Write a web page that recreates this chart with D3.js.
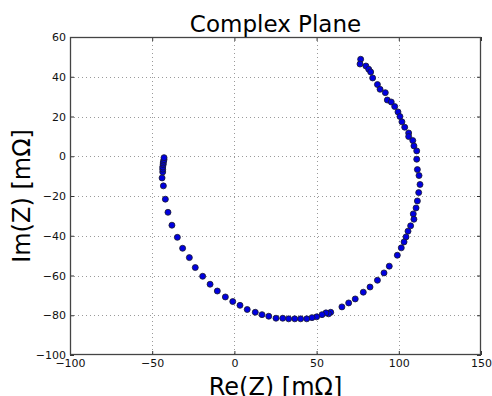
<!DOCTYPE html>
<html lang="en">
<head>
<meta charset="UTF-8">
<title>Complex Plane</title>
<script src="https://cdn.jsdelivr.net/npm/d3@7"></script>
<style>
  body { margin: 0; background: #fff; overflow: hidden; }
  text { font-family: "DejaVu Sans", sans-serif; }
</style>
</head>
<body>
<script>
// impedance points (mOhm), right branch top -> bottom -> left branch
const re = [76.8, 76.4, 80, 81.7, 82.9, 84.1, 87, 88.6, 91.8, 93, 95.4, 97.5, 99.5, 100.7, 101.9, 103.6,
  106, 106, 108.5, 109.2, 110.9, 110.9, 111.3, 112.3, 112.9, 112.1, 111.3, 110.5, 108.8, 109.2, 107.2,
  105.6, 104.4, 103.2, 101.5, 99.1, 94.2, 91, 87, 82.5, 78.4, 73.5, 69.5, 65.4, 58.6, 57.3, 55.7, 53.3,
  50, 47.2, 44, 40.3, 36.7, 33, 29.4, 25.3, 20.9, 16.8, 12.7, 7.8, 3.4, -1, -5.5, -10.4, -14.8, -19.3,
  -23.8, -27.4, -31.5, -34.7, -38, -40.4, -42, -43.2, -44, -43.6, -43.6, -43.6, -43.3, -43.3, -43.1, -42.8, -42.8];
const im = [48.8, 46.4, 45.4, 43.8, 42.4, 39.4, 36.1, 33.7, 32, 28.3, 27.3, 25, 22.3, 20, 17.3, 14.6,
  11.7, 9.9, 7.9, 5.2, 2.7, -1.5, -6.7, -9.7, -14.2, -18.3, -22.5, -26, -29, -31.7, -35,
  -37.7, -40.6, -43.1, -46.1, -49.8, -55.3, -58.7, -62.4, -65.8, -68.4, -71.8, -73.8, -75.8, -78.5, -79.3, -78.8, -79.7,
  -80.8, -81.2, -81.8, -81.8, -81.8, -81.8, -81.5, -81.5, -80.5, -79.7, -78.5, -77.1, -75, -73.1, -70.8, -67.8, -64.4, -60.4,
  -56, -51, -46.3, -40.8, -34.7, -28.2, -21.6, -14.9, -10.9, -7.9, -6.5, -5.4, -4.2, -3.4, -2.5, -1.7, -0.7];
const xTicks = [-100, -50, 0, 50, 100, 150];
const yTicks = [-100, -80, -60, -40, -20, 0, 20, 40, 60];

const W = 492, H = 396;
const m = {top: 37, right: 11, bottom: 41, left: 70};

const svg = d3.select("body").append("svg")
  .attr("width", W).attr("height", H);

const x = d3.scaleLinear().domain([-100, 150]).range([m.left, W - m.right]);
const y = d3.scaleLinear().domain([-100, 60]).range([H - m.bottom, m.top]);

const fmt = d => d < 0 ? "\u2212" + Math.abs(d) : String(d);

// grid
const grid = svg.append("g").attr("stroke", "#9a9a9a").attr("stroke-width", 1)
  .attr("stroke-dasharray", "1,3");
grid.selectAll(".gx").data(xTicks.slice(1, -1)).join("line")
  .attr("x1", d => Math.round(x(d)) + 0.5).attr("x2", d => Math.round(x(d)) + 0.5)
  .attr("y1", m.top).attr("y2", H - m.bottom);
grid.selectAll(".gy").data(yTicks.slice(1, -1)).join("line")
  .attr("y1", d => Math.round(y(d)) + 0.5).attr("y2", d => Math.round(y(d)) + 0.5)
  .attr("x1", m.left).attr("x2", W - m.right);

// axes, ticks pointing inward like matplotlib classic
svg.append("g").attr("transform", `translate(0,${H - m.bottom})`)
  .call(d3.axisBottom(x).tickValues(xTicks).tickFormat(fmt).tickSizeInner(-4).tickSizeOuter(0).tickPadding(4));
svg.append("g").attr("transform", `translate(0,${m.top})`)
  .call(d3.axisTop(x).tickValues(xTicks).tickFormat("").tickSizeInner(-4).tickSizeOuter(0));
svg.append("g").attr("transform", `translate(${m.left},0)`)
  .call(d3.axisLeft(y).tickValues(yTicks).tickFormat(fmt).tickSizeInner(-4).tickSizeOuter(0).tickPadding(4));
svg.append("g").attr("transform", `translate(${W - m.right},0)`)
  .call(d3.axisRight(y).tickValues(yTicks).tickFormat("").tickSizeInner(-4).tickSizeOuter(0));
svg.selectAll(".domain").remove();
svg.selectAll(".tick line").attr("stroke", "#333");
svg.selectAll(".tick text").attr("font-size", 11).attr("fill", "#111")
  .style("font-family", "DejaVu Sans, sans-serif");

svg.append("rect")
  .attr("x", m.left + 0.5).attr("y", m.top + 0.5)
  .attr("width", W - m.left - m.right - 1).attr("height", H - m.top - m.bottom - 1)
  .attr("fill", "none").attr("stroke", "#444").attr("stroke-width", 1.3);

// points
svg.append("g").selectAll("circle").data(re.map((r, i) => [r, im[i]])).join("circle")
  .attr("cx", d => x(d[0])).attr("cy", d => y(d[1])).attr("r", 3)
  .attr("fill", "#0000e0").attr("stroke", "#1a1a2a").attr("stroke-width", 0.8);

// labels
svg.append("text").attr("x", (m.left + W - m.right) / 2).attr("y", 32)
  .attr("text-anchor", "middle").attr("font-size", 23).text("Complex Plane");
svg.append("text").attr("x", (m.left + W - m.right) / 2).attr("y", 395)
  .attr("text-anchor", "middle").attr("font-size", 24).text("Re(Z) [m\u03a9]");
svg.append("text").attr("transform", `translate(30,${(m.top + H - m.bottom) / 2}) rotate(-90)`)
  .attr("text-anchor", "middle").attr("font-size", 24).text("Im(Z) [m\u03a9]");
</script>
</body>
</html>
